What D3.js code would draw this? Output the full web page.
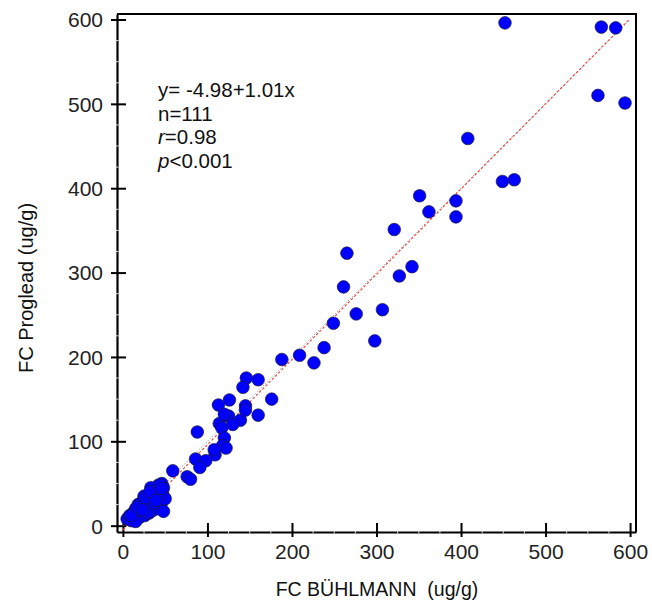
<!DOCTYPE html>
<html>
<head>
<meta charset="utf-8">
<script src="https://cdn.jsdelivr.net/npm/d3@7"></script>
<style>
  body { margin: 0; background: #fff; }
  svg { display: block; font-family: "Liberation Sans", Arial, sans-serif; }
</style>
</head>
<body>
<div id="container"></div>
<script>
// readings: FC BÜHLMANN (x) vs FC Proglead (y), ug/g
const bxValues = [452, 566, 583, 562, 594, 408, 449, 463, 394, 394, 351, 362, 321, 265, 342, 327, 261, 276, 307, 249,
  298, 238, 209, 188, 226, 146, 160, 142, 176, 126, 113, 145, 114, 88, 109, 86, 98, 91, 59, 76,
  80, 117, 120, 118, 122, 139, 145, 160, 125, 120, 130, 108,
  5, 8, 10, 12, 14, 15, 17, 18, 20, 20, 22, 23, 24, 25, 26, 27, 28, 28, 30, 30,
  31, 32, 33, 34, 35, 35, 36, 37, 38, 39, 40, 40, 41, 42, 43, 44, 45, 45, 46, 47,
  48, 48, 50, 20, 15, 10, 25, 33, 38, 44, 18, 29, 36, 42, 27, 23, 32, 39, 46]
const plValues = [596, 591, 590, 510, 501, 459, 408, 410, 385, 366, 391, 372, 351, 323, 307, 296, 283, 251, 256, 240,
  219, 211, 202, 197, 193, 175, 173, 164, 150, 149, 143, 142, 121, 111, 84, 79, 77, 69, 65, 58,
  55, 116, 104, 95, 92, 125, 137, 131, 130, 132, 120, 90,
  8, 12, 6, 15, 10, 20, 14, 25, 18, 10, 22, 28, 15, 20, 12, 26, 30, 18, 24, 35,
  15, 28, 22, 38, 30, 18, 42, 25, 33, 45, 28, 38, 20, 48, 35, 30, 42, 25, 50, 38,
  17, 45, 32, 26, 5, 12, 35, 45, 40, 48, 22, 16, 27, 36, 33, 19, 40, 30, 44]
const tickValues = [0, 100, 200, 300, 400, 500, 600]
const minorValues = [25, 50, 75, 125, 150, 175, 225, 250, 275, 325, 350, 375, 425, 450, 475, 525, 550, 575]
const statLines = ["y= -4.98+1.01x", "n=111", "r=0.98", "p<0.001"]
const intercept = -4.98
const slope = 1.01

const points = bxValues.map((d, i) => ({ x: d, y: plValues[i] }))

const width = 652, height = 608
const svg = d3.select("#container").append("svg")
  .attr("width", width)
  .attr("height", height)

const x = d3.scaleLinear().domain([-7, 607]).range([117, 636])
const y = d3.scaleLinear().domain([-7.5, 606.5]).range([532, 14])

// top and right frame
svg.append("path")
  .attr("d", `M${x(-7)},${y(606.5)}H${x(607)}V${y(-7.5)}`)
  .attr("fill", "none")
  .attr("stroke", "#000")
  .attr("stroke-width", 2)

// x axis
const xAxis = svg.append("g")
  .attr("transform", `translate(0,${y(-7.5)})`)
  .call(d3.axisBottom(x).tickValues(tickValues).tickSize(5).tickSizeOuter(0))
xAxis.select(".domain").attr("stroke-width", 2.2)
xAxis.selectAll(".tick line").attr("y1", -9).attr("stroke-width", 2)
xAxis.selectAll(".tick text")
  .attr("y", 27).attr("dy", null)
  .style("font-size", "21px").attr("fill", "#222")

// y axis
const yAxis = svg.append("g")
  .attr("transform", `translate(${x(-7)},0)`)
  .call(d3.axisLeft(y).tickValues(tickValues).tickSize(6).tickSizeOuter(0))
yAxis.select(".domain").attr("stroke-width", 2.2)
yAxis.selectAll(".tick line").attr("x1", 9).attr("stroke-width", 2)
yAxis.selectAll(".tick text")
  .attr("x", -14).attr("dy", "0.35em")
  .style("font-size", "21px").attr("fill", "#222")

// minor marks show as small light breaks on the axis lines
svg.selectAll(".xminor").data(minorValues).enter().append("line")
  .attr("x1", d => x(d)).attr("x2", d => x(d))
  .attr("y1", y(-7.5) - 1.5).attr("y2", y(-7.5) + 1.5)
  .attr("stroke", "#ddd").attr("stroke-width", 1)
svg.selectAll(".yminor").data(minorValues).enter().append("line")
  .attr("y1", d => y(d)).attr("y2", d => y(d))
  .attr("x1", x(-7) - 1.5).attr("x2", x(-7) + 1.5)
  .attr("stroke", "#ddd").attr("stroke-width", 1)

// identity and regression lines
svg.append("line")
  .attr("x1", x(0)).attr("y1", y(0))
  .attr("x2", x(600)).attr("y2", y(600))
  .attr("stroke", "#888").attr("stroke-width", 1)
  .attr("stroke-dasharray", "1,2")
svg.append("line")
  .attr("x1", x(0)).attr("y1", y(intercept))
  .attr("x2", x(600)).attr("y2", y(intercept + slope * 600))
  .attr("stroke", "#e8403a").attr("stroke-width", 1.1)
  .attr("stroke-dasharray", "2.5,2")

// points
svg.selectAll("circle")
  .data(points)
  .enter()
  .append("circle")
  .attr("cx", d => x(d.x))
  .attr("cy", d => y(d.y))
  .attr("r", 6.3)
  .attr("fill", "#0000ff")
  .attr("stroke", "#1a1a40")
  .attr("stroke-width", 0.7)

// stats text
const stats = svg.append("text")
  .attr("x", 158)
  .attr("y", 97)
  .style("font-size", "20.5px")
  .attr("fill", "#111")
stats.selectAll("tspan")
  .data(statLines)
  .enter()
  .append("tspan")
  .attr("x", 158)
  .attr("dy", (d, i) => i === 0 ? 0 : 23.6)
  .each(function (d) {
    const t = d3.select(this)
    if (d[0] === "r" || d[0] === "p") {
      t.append("tspan").style("font-style", "italic").text(d[0])
      t.append("tspan").text(d.slice(1))
    } else {
      t.text(d)
    }
  })

// axis titles
svg.append("text")
  .attr("x", 377)
  .attr("y", 596)
  .attr("text-anchor", "middle")
  .style("font-size", "19.5px")
  .style("white-space", "pre")
  .attr("fill", "#111")
  .text("FC BÜHLMANN  (ug/g)")

svg.append("text")
  .attr("transform", "translate(33,288) rotate(-90)")
  .attr("text-anchor", "middle")
  .style("font-size", "20px")
  .attr("fill", "#111")
  .text("FC Proglead (ug/g)")
</script>
</body>
</html>
